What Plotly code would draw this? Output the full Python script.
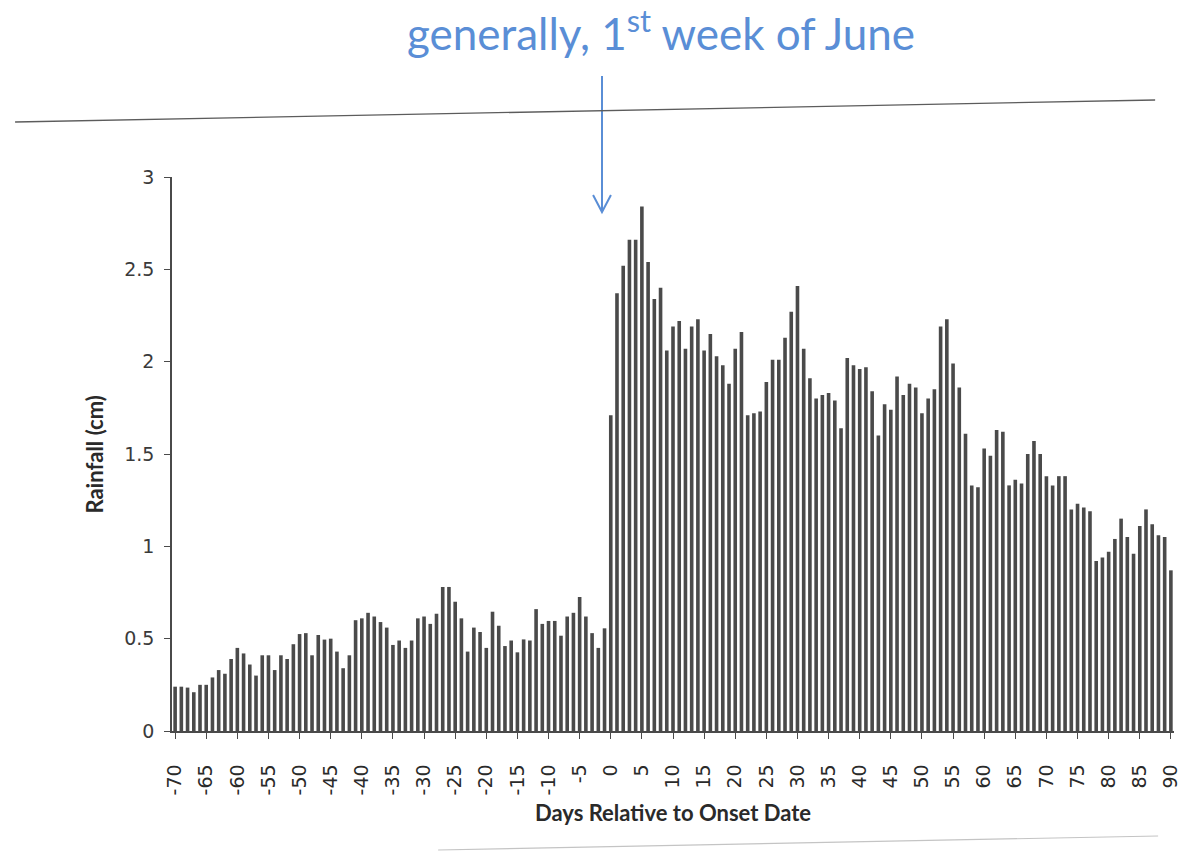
import plotly.graph_objects as go

# Mean daily rainfall (cm), days -70 .. -1 before monsoon onset
rain_before_onset = [
    0.24, 0.24, 0.235, 0.21, 0.25, 0.25, 0.29, 0.33, 0.31, 0.39,
    0.45, 0.42, 0.36, 0.30, 0.41, 0.41, 0.33, 0.41, 0.39, 0.47,
    0.525, 0.53, 0.41, 0.52, 0.495, 0.50, 0.43, 0.34, 0.41, 0.60,
    0.61, 0.64, 0.62, 0.59, 0.56,
    0.466, 0.49, 0.45, 0.49, 0.61, 0.62, 0.58, 0.635, 0.78, 0.78,
    0.70, 0.61, 0.43, 0.56, 0.536, 0.45, 0.646, 0.57, 0.46, 0.49,
    0.426, 0.496, 0.49, 0.66, 0.58, 0.596, 0.596, 0.516, 0.62, 0.64,
    0.726, 0.62, 0.53, 0.45, 0.556,
]

# Mean daily rainfall (cm), days 0 .. 90 from onset
rain_after_onset = [
    1.71, 2.37, 2.52, 2.66, 2.66, 2.84, 2.54, 2.34, 2.40, 2.06,
    2.19, 2.22, 2.07, 2.19, 2.23, 2.06, 2.15, 2.03, 1.98, 1.88,
    2.07, 2.16, 1.71, 1.72, 1.73, 1.89, 2.01, 2.01, 2.13, 2.27,
    2.41, 2.07, 1.91, 1.80, 1.82, 1.83, 1.79, 1.64, 2.02, 1.98,
    1.96, 1.97, 1.84, 1.60, 1.77, 1.74, 1.92, 1.82, 1.88, 1.86,
    1.72, 1.80, 1.85, 2.19, 2.23, 1.99, 1.86, 1.61, 1.33, 1.32,
    1.53, 1.49, 1.63, 1.62, 1.33, 1.36, 1.34, 1.50, 1.57, 1.50,
    1.38, 1.33, 1.38, 1.38, 1.20, 1.23, 1.21, 1.19, 0.92, 0.94,
    0.97, 1.04, 1.15, 1.05, 0.96, 1.11, 1.20, 1.12, 1.06, 1.05,
    0.87,
]

first_day = -70
rainfall = rain_before_onset + rain_after_onset
days = list(range(first_day, first_day + len(rainfall)))

x_tick_days = list(range(-70, 91, 5))
y_tick_vals = [0, 0.5, 1, 1.5, 2, 2.5, 3]
y_tick_text = ["0", "0.5", "1", "1.5", "2", "2.5", "3"]

W, H = 1190, 854
M_L, M_R, M_T, M_B = 172, 9, 177, 123
PW, PH = W - M_L - M_R, H - M_T - M_B


def px(x):
    return (x - M_L) / PW


def py(y):
    return (H - M_B - y) / PH


ink = "#4a4a4a"
label_ink = "#333333"
blue = "#5a8ed6"

fig = go.Figure(
    go.Bar(
        x=days,
        y=rainfall,
        marker=dict(color=ink, line=dict(width=0)),
        hovertemplate="Day %{x}: %{y} cm<extra></extra>",
    )
)

fig.update_layout(
    width=W,
    height=H,
    margin=dict(l=M_L, r=M_R, t=M_T, b=M_B),
    paper_bgcolor="white",
    plot_bgcolor="white",
    bargap=0.42,
    showlegend=False,
    font=dict(family="DejaVu Sans", color=label_ink),
)

fig.update_xaxes(
    range=[-70.5, 90.5],
    tickmode="array",
    tickvals=x_tick_days,
    ticktext=[str(d) for d in x_tick_days],
    tickangle=-90,
    tickfont=dict(size=19, color="#2a2a2a"),
    ticklabelstandoff=18,
    ticks="outside",
    ticklen=6,
    tickcolor=ink,
    showline=True,
    linecolor=ink,
    linewidth=1.5,
    showgrid=False,
    zeroline=False,
)

fig.update_yaxes(
    range=[0, 3],
    tickmode="array",
    tickvals=y_tick_vals,
    ticktext=[t + "\u00a0" for t in y_tick_text],
    tickfont=dict(size=19, color="#3a3a3a"),
    ticks="outside",
    ticklen=6,
    tickcolor=ink,
    showline=True,
    linecolor=ink,
    linewidth=1.5,
    showgrid=False,
    zeroline=False,
)

# Axis titles
fig.add_annotation(
    xref="paper", yref="paper",
    x=px(676), y=py(813),
    text="<b>Days Relative to Onset Date</b>",
    showarrow=False,
    font=dict(family="Lato", size=22, color="#2a2a2a"),
    xanchor="center", yanchor="middle",
)
fig.add_annotation(
    xref="paper", yref="paper",
    x=px(93), y=py(455),
    text="<b>Rainfall (cm)</b>",
    textangle=-90,
    showarrow=False,
    font=dict(family="Lato", size=22, color="#2a2a2a"),
    xanchor="center", yanchor="middle",
)

# Onset call-out text
fig.add_annotation(
    xref="paper", yref="paper",
    x=px(664), y=py(30),
    text="generally, 1<sup>st</sup> week of June",
    showarrow=False,
    font=dict(family="Lato", size=44, color=blue),
    xanchor="center", yanchor="middle",
)

# Arrow pointing at the onset
fig.add_shape(
    type="line", xref="paper", yref="paper",
    x0=px(605), y0=py(76), x1=px(605), y1=py(212),
    line=dict(color=blue, width=2),
)
fig.add_shape(
    type="path", xref="paper", yref="paper",
    path=(f"M {px(596)},{py(195)} L {px(605)},{py(212)} "
          f"L {px(614)},{py(195)}"),
    line=dict(color=blue, width=2),
)

# Page edge lines of the scanned sheet
fig.add_shape(
    type="line", xref="paper", yref="paper",
    x0=px(14), y0=py(122), x1=px(1162), y1=py(100),
    line=dict(color="#5c5c5c", width=1.3),
)
fig.add_shape(
    type="line", xref="paper", yref="paper",
    x0=px(440), y0=py(850), x1=px(1165), y1=py(836),
    line=dict(color="#c4c4c4", width=1.2),
)

fig.write_html("out.html")
